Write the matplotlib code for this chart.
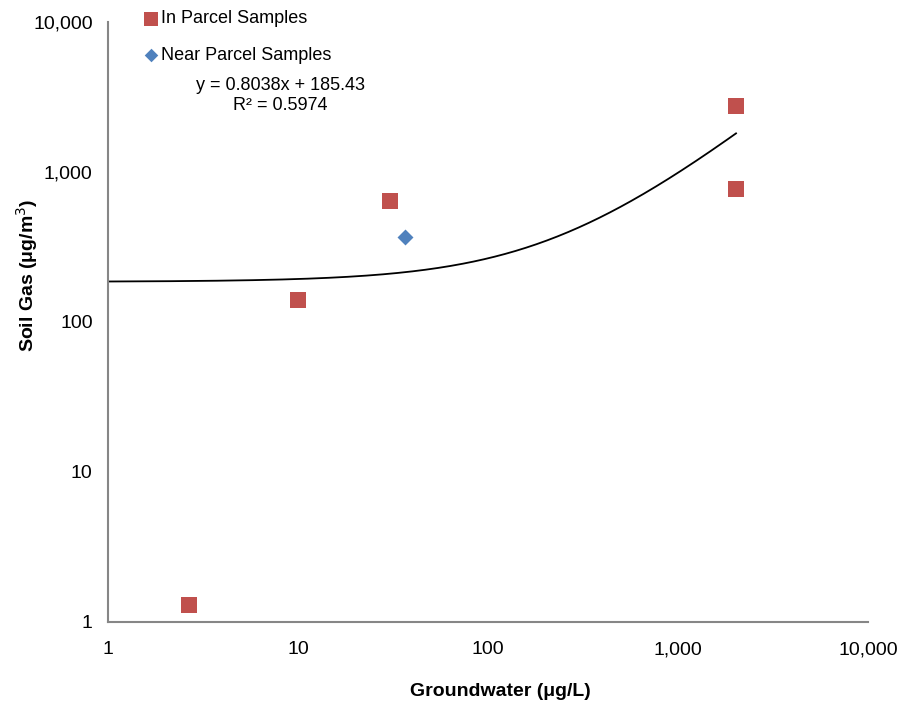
import matplotlib
matplotlib.use("Agg")
import matplotlib.pyplot as plt
from matplotlib.ticker import FixedLocator, FuncFormatter
import numpy as np

plt.rcParams['font.family'] = ['Liberation Sans', 'DejaVu Sans']

# data
in_parcel_gw = [2.67, 10.0, 30.5, 2020, 2020]
in_parcel_sg = [1.30, 140, 641, 2750, 770]
near_parcel_gw = [36.6]
near_parcel_sg = [369]

# linear trendline as printed on the chart
slope = 0.8038
intercept = 185.43
r2 = 0.5974

ticks = [1, 10, 100, 1000, 10000]

fig = plt.figure(figsize=(9.02, 7.02), dpi=100)
ax = fig.add_axes([108 / 902, 80 / 702, 760 / 902, 600 / 702])

red = '#C0504D'
blue = '#4F81BD'

ax.scatter(in_parcel_gw, in_parcel_sg, marker='s', s=132, color=red,
           linewidths=0, label='In Parcel Samples', zorder=3)
ax.scatter(near_parcel_gw, near_parcel_sg, marker='D', s=66, color=blue,
           linewidths=0, label='Near Parcel Samples', zorder=3)

xmax = max(in_parcel_gw + near_parcel_gw)
xs = np.geomspace(1, xmax, 300)
ax.plot(xs, slope * xs + intercept, color='black', lw=1.3, zorder=2)

ax.set_xscale('log')
ax.set_yscale('log')
ax.set_xlim(1, 10000)
ax.set_ylim(1, 10000)
fmt = FuncFormatter(lambda v, p: f'{v:,.0f}')
for axis in (ax.xaxis, ax.yaxis):
    axis.set_major_locator(FixedLocator(ticks))
    axis.set_major_formatter(fmt)
    axis.set_minor_locator(FixedLocator([]))
ax.tick_params(length=0, labelsize=14)
ax.tick_params(axis='x', pad=23.4)
ax.tick_params(axis='y', pad=11)
for lbl in ax.get_xticklabels():
    lbl.set_verticalalignment('baseline')

for side in ('top', 'right'):
    ax.spines[side].set_visible(False)
for side in ('left', 'bottom'):
    ax.spines[side].set_color('#868686')
    ax.spines[side].set_linewidth(1.5)

fig.text(500 / 902, 1 - 692 / 702, 'Groundwater (μg/L)', ha='center', va='center',
         fontsize=14, fontweight='bold')
fig.text(27 / 902, 1 - 275 / 702, 'Soil Gas (μg/m$^3$)', ha='center', va='center',
         rotation=90, fontsize=14, fontweight='bold')

fig.text(280 / 902, 1 - 95.5 / 702, f'y = {slope}x + {intercept}\nR² = {r2}',
         ha='center', va='center', fontsize=13, linespacing=1.25)

fig.legend(loc='upper left', bbox_to_anchor=(125 / 902, 1 + 6 / 702),
           frameon=False, fontsize=13, handletextpad=0.0, labelspacing=1.07,
           handlelength=1.1, markerscale=0.85)

fig.savefig('out.png', dpi=100)
